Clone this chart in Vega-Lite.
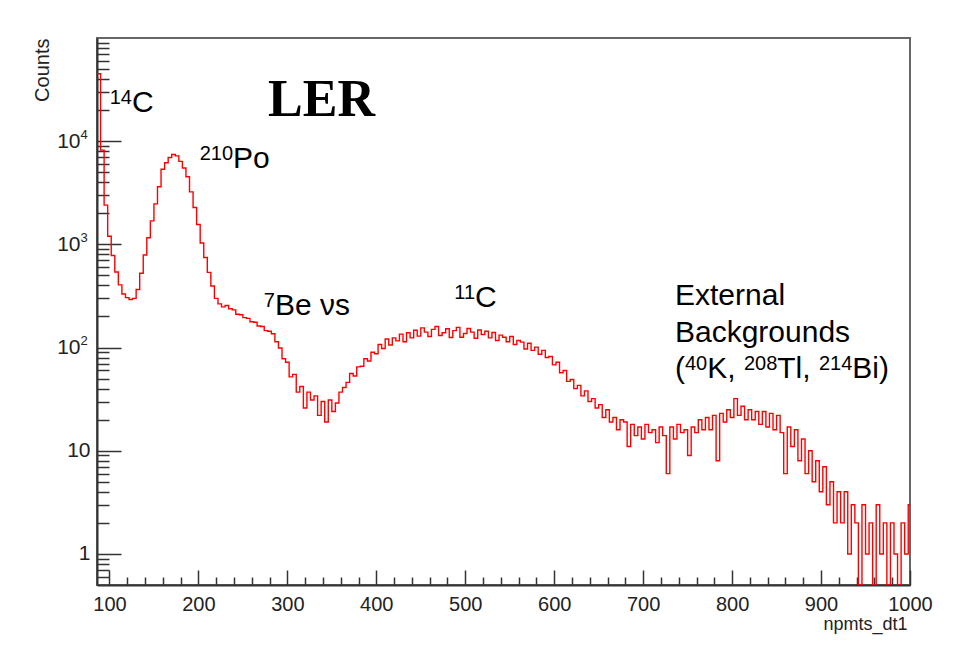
{
  "$schema": "https://vega.github.io/schema/vega-lite/v6.json",
  "autosize": "none",
  "width": 813,
  "height": 547,
  "padding": {"left": 97, "top": 38, "right": 44, "bottom": 66},
  "background": "white",
  "config": {
    "view": {"stroke": "#666666", "strokeWidth": 2},
    "axis": {"grid": false}
  },
  "datasets": {
    "hist": [
      {"npmts_dt1": 86, "counts": 45000}, {"npmts_dt1": 90, "counts": 8200}, {"npmts_dt1": 94, "counts": 2400}, {"npmts_dt1": 98, "counts": 1200},
      {"npmts_dt1": 102, "counts": 780}, {"npmts_dt1": 106, "counts": 540}, {"npmts_dt1": 110, "counts": 405}, {"npmts_dt1": 114, "counts": 330},
      {"npmts_dt1": 118, "counts": 305}, {"npmts_dt1": 122, "counts": 292}, {"npmts_dt1": 126, "counts": 300}, {"npmts_dt1": 130, "counts": 365},
      {"npmts_dt1": 134, "counts": 525}, {"npmts_dt1": 138, "counts": 790}, {"npmts_dt1": 142, "counts": 1160}, {"npmts_dt1": 146, "counts": 1690},
      {"npmts_dt1": 150, "counts": 2470}, {"npmts_dt1": 154, "counts": 3620}, {"npmts_dt1": 158, "counts": 5350}, {"npmts_dt1": 162, "counts": 6180},
      {"npmts_dt1": 166, "counts": 6950}, {"npmts_dt1": 170, "counts": 7420}, {"npmts_dt1": 174, "counts": 7200}, {"npmts_dt1": 178, "counts": 6380},
      {"npmts_dt1": 182, "counts": 5500}, {"npmts_dt1": 186, "counts": 4520}, {"npmts_dt1": 190, "counts": 3230}, {"npmts_dt1": 194, "counts": 2280},
      {"npmts_dt1": 198, "counts": 1560}, {"npmts_dt1": 202, "counts": 1030}, {"npmts_dt1": 206, "counts": 745}, {"npmts_dt1": 210, "counts": 535},
      {"npmts_dt1": 214, "counts": 395}, {"npmts_dt1": 218, "counts": 300}, {"npmts_dt1": 222, "counts": 265}, {"npmts_dt1": 226, "counts": 248},
      {"npmts_dt1": 230, "counts": 256}, {"npmts_dt1": 234, "counts": 238}, {"npmts_dt1": 238, "counts": 232}, {"npmts_dt1": 242, "counts": 210},
      {"npmts_dt1": 246, "counts": 208}, {"npmts_dt1": 250, "counts": 195}, {"npmts_dt1": 254, "counts": 192}, {"npmts_dt1": 258, "counts": 178},
      {"npmts_dt1": 262, "counts": 176}, {"npmts_dt1": 266, "counts": 162}, {"npmts_dt1": 270, "counts": 160}, {"npmts_dt1": 274, "counts": 146},
      {"npmts_dt1": 278, "counts": 144}, {"npmts_dt1": 282, "counts": 136}, {"npmts_dt1": 286, "counts": 114}, {"npmts_dt1": 290, "counts": 99},
      {"npmts_dt1": 294, "counts": 78}, {"npmts_dt1": 298, "counts": 72}, {"npmts_dt1": 302, "counts": 52}, {"npmts_dt1": 306, "counts": 55},
      {"npmts_dt1": 310, "counts": 37}, {"npmts_dt1": 314, "counts": 42}, {"npmts_dt1": 318, "counts": 26}, {"npmts_dt1": 322, "counts": 37},
      {"npmts_dt1": 326, "counts": 31}, {"npmts_dt1": 330, "counts": 34}, {"npmts_dt1": 334, "counts": 22}, {"npmts_dt1": 338, "counts": 30},
      {"npmts_dt1": 342, "counts": 19}, {"npmts_dt1": 346, "counts": 31}, {"npmts_dt1": 350, "counts": 24}, {"npmts_dt1": 354, "counts": 29},
      {"npmts_dt1": 358, "counts": 37}, {"npmts_dt1": 362, "counts": 41}, {"npmts_dt1": 366, "counts": 46}, {"npmts_dt1": 370, "counts": 56},
      {"npmts_dt1": 374, "counts": 53}, {"npmts_dt1": 378, "counts": 65}, {"npmts_dt1": 382, "counts": 66}, {"npmts_dt1": 386, "counts": 78},
      {"npmts_dt1": 390, "counts": 74}, {"npmts_dt1": 394, "counts": 90}, {"npmts_dt1": 398, "counts": 87}, {"npmts_dt1": 402, "counts": 107},
      {"npmts_dt1": 406, "counts": 98}, {"npmts_dt1": 410, "counts": 121}, {"npmts_dt1": 414, "counts": 106}, {"npmts_dt1": 418, "counts": 124},
      {"npmts_dt1": 422, "counts": 116}, {"npmts_dt1": 426, "counts": 135}, {"npmts_dt1": 430, "counts": 114}, {"npmts_dt1": 434, "counts": 139},
      {"npmts_dt1": 438, "counts": 124}, {"npmts_dt1": 442, "counts": 147}, {"npmts_dt1": 446, "counts": 129}, {"npmts_dt1": 450, "counts": 155},
      {"npmts_dt1": 454, "counts": 141}, {"npmts_dt1": 458, "counts": 128}, {"npmts_dt1": 462, "counts": 150}, {"npmts_dt1": 466, "counts": 160},
      {"npmts_dt1": 470, "counts": 131}, {"npmts_dt1": 474, "counts": 139}, {"npmts_dt1": 478, "counts": 152}, {"npmts_dt1": 482, "counts": 125},
      {"npmts_dt1": 486, "counts": 146}, {"npmts_dt1": 490, "counts": 157}, {"npmts_dt1": 494, "counts": 126}, {"npmts_dt1": 498, "counts": 137},
      {"npmts_dt1": 502, "counts": 153}, {"npmts_dt1": 506, "counts": 141}, {"npmts_dt1": 510, "counts": 123}, {"npmts_dt1": 514, "counts": 148},
      {"npmts_dt1": 518, "counts": 134}, {"npmts_dt1": 522, "counts": 144}, {"npmts_dt1": 526, "counts": 124}, {"npmts_dt1": 530, "counts": 140},
      {"npmts_dt1": 534, "counts": 117}, {"npmts_dt1": 538, "counts": 132}, {"npmts_dt1": 542, "counts": 126}, {"npmts_dt1": 546, "counts": 114},
      {"npmts_dt1": 550, "counts": 128}, {"npmts_dt1": 554, "counts": 107}, {"npmts_dt1": 558, "counts": 117}, {"npmts_dt1": 562, "counts": 113},
      {"npmts_dt1": 566, "counts": 97}, {"npmts_dt1": 570, "counts": 110}, {"npmts_dt1": 574, "counts": 94}, {"npmts_dt1": 578, "counts": 101},
      {"npmts_dt1": 582, "counts": 86}, {"npmts_dt1": 586, "counts": 94}, {"npmts_dt1": 590, "counts": 80}, {"npmts_dt1": 594, "counts": 82},
      {"npmts_dt1": 598, "counts": 68}, {"npmts_dt1": 602, "counts": 72}, {"npmts_dt1": 606, "counts": 57}, {"npmts_dt1": 610, "counts": 60},
      {"npmts_dt1": 614, "counts": 47}, {"npmts_dt1": 618, "counts": 49}, {"npmts_dt1": 622, "counts": 40}, {"npmts_dt1": 626, "counts": 43},
      {"npmts_dt1": 630, "counts": 34}, {"npmts_dt1": 634, "counts": 38}, {"npmts_dt1": 638, "counts": 30}, {"npmts_dt1": 642, "counts": 32},
      {"npmts_dt1": 646, "counts": 26}, {"npmts_dt1": 650, "counts": 28}, {"npmts_dt1": 654, "counts": 21}, {"npmts_dt1": 658, "counts": 25},
      {"npmts_dt1": 662, "counts": 19}, {"npmts_dt1": 666, "counts": 21}, {"npmts_dt1": 670, "counts": 16}, {"npmts_dt1": 674, "counts": 20},
      {"npmts_dt1": 678, "counts": 19}, {"npmts_dt1": 682, "counts": 11}, {"npmts_dt1": 686, "counts": 18}, {"npmts_dt1": 690, "counts": 14},
      {"npmts_dt1": 694, "counts": 17}, {"npmts_dt1": 698, "counts": 13}, {"npmts_dt1": 702, "counts": 18}, {"npmts_dt1": 706, "counts": 15},
      {"npmts_dt1": 710, "counts": 16}, {"npmts_dt1": 714, "counts": 12}, {"npmts_dt1": 718, "counts": 17}, {"npmts_dt1": 722, "counts": 14},
      {"npmts_dt1": 726, "counts": 6}, {"npmts_dt1": 730, "counts": 17}, {"npmts_dt1": 734, "counts": 13}, {"npmts_dt1": 738, "counts": 18},
      {"npmts_dt1": 742, "counts": 15}, {"npmts_dt1": 746, "counts": 16}, {"npmts_dt1": 750, "counts": 9}, {"npmts_dt1": 754, "counts": 17},
      {"npmts_dt1": 758, "counts": 15}, {"npmts_dt1": 762, "counts": 20}, {"npmts_dt1": 766, "counts": 16}, {"npmts_dt1": 770, "counts": 21},
      {"npmts_dt1": 774, "counts": 16}, {"npmts_dt1": 778, "counts": 22}, {"npmts_dt1": 782, "counts": 8}, {"npmts_dt1": 786, "counts": 23},
      {"npmts_dt1": 790, "counts": 19}, {"npmts_dt1": 794, "counts": 25}, {"npmts_dt1": 798, "counts": 21}, {"npmts_dt1": 802, "counts": 32},
      {"npmts_dt1": 806, "counts": 22}, {"npmts_dt1": 810, "counts": 27}, {"npmts_dt1": 814, "counts": 20}, {"npmts_dt1": 818, "counts": 25},
      {"npmts_dt1": 822, "counts": 20}, {"npmts_dt1": 826, "counts": 24}, {"npmts_dt1": 830, "counts": 18}, {"npmts_dt1": 834, "counts": 24},
      {"npmts_dt1": 838, "counts": 17}, {"npmts_dt1": 842, "counts": 23}, {"npmts_dt1": 846, "counts": 16}, {"npmts_dt1": 850, "counts": 22},
      {"npmts_dt1": 854, "counts": 15}, {"npmts_dt1": 858, "counts": 6}, {"npmts_dt1": 862, "counts": 17}, {"npmts_dt1": 866, "counts": 11},
      {"npmts_dt1": 870, "counts": 16}, {"npmts_dt1": 874, "counts": 8}, {"npmts_dt1": 878, "counts": 13}, {"npmts_dt1": 882, "counts": 6},
      {"npmts_dt1": 886, "counts": 10}, {"npmts_dt1": 890, "counts": 5}, {"npmts_dt1": 894, "counts": 8}, {"npmts_dt1": 898, "counts": 4},
      {"npmts_dt1": 902, "counts": 7}, {"npmts_dt1": 906, "counts": 3}, {"npmts_dt1": 910, "counts": 5}, {"npmts_dt1": 914, "counts": 2},
      {"npmts_dt1": 918, "counts": 4}, {"npmts_dt1": 922, "counts": 2}, {"npmts_dt1": 926, "counts": 4}, {"npmts_dt1": 930, "counts": 1},
      {"npmts_dt1": 934, "counts": 3}, {"npmts_dt1": 938, "counts": 2}, {"npmts_dt1": 942, "counts": 0}, {"npmts_dt1": 946, "counts": 3},
      {"npmts_dt1": 950, "counts": 1}, {"npmts_dt1": 954, "counts": 2}, {"npmts_dt1": 958, "counts": 0}, {"npmts_dt1": 962, "counts": 3},
      {"npmts_dt1": 966, "counts": 1}, {"npmts_dt1": 970, "counts": 2}, {"npmts_dt1": 974, "counts": 0}, {"npmts_dt1": 978, "counts": 2},
      {"npmts_dt1": 982, "counts": 1}, {"npmts_dt1": 986, "counts": 0}, {"npmts_dt1": 990, "counts": 2}, {"npmts_dt1": 994, "counts": 1},
      {"npmts_dt1": 998, "counts": 3}, {"npmts_dt1": 1000, "counts": 3}
    ],
    "annot": [
      {"x": 125.3, "y": 19200, "sup": "14", "main": "C"},
      {"x": 238.9, "y": 5500, "sup": "210", "main": "Po"},
      {"x": 286.1, "y": 207, "sup": "7", "main": "Be νs"},
      {"x": 511, "y": 247, "sup": "11", "main": "C"},
      {"x": 735.8, "y": 258, "sup": "", "main": "External"},
      {"x": 735.8, "y": 114, "sup": "", "main": "Backgrounds"},
      {"x": 735.8, "y": 50.7, "sup": "", "main": "("},
      {"x": 772, "y": 50.7, "sup": "40", "main": "K,"},
      {"x": 850.8, "y": 50.7, "sup": "208", "main": "Tl,"},
      {"x": 935.2, "y": 50.7, "sup": "214", "main": "Bi)"}
    ],
    "heading": [
      {"x": 278.3, "y": 17400, "text": "LER"}
    ]
  },
  "resolve": {"axis": {"x": "independent", "y": "independent"}},
  "layer": [
    {
      "data": {"name": "hist"},
      "mark": {"type": "line", "interpolate": "step-after", "color": "#ff0000", "strokeWidth": 1.4, "clip": true},
      "encoding": {
        "x": {
          "field": "npmts_dt1", "type": "quantitative",
          "scale": {"domain": [86, 1000], "nice": false, "zero": false},
          "axis": {
            "title": "npmts_dt1", "orient": "bottom", "format": "d",
            "values": [100, 200, 300, 400, 500, 600, 700, 800, 900, 1000],
            "tickSize": -15, "tickColor": "#333333", "tickWidth": 1.5,
            "domainColor": "#333333", "domainWidth": 2,
            "labelFont": "Liberation Sans", "labelFontSize": 20, "labelColor": "#222222",
            "labelPadding": 24, "labelFlush": false, "labelOverlap": false,
            "titleFont": "Liberation Sans", "titleFontSize": 18, "titleFontWeight": "normal", "titleColor": "#222222",
            "titleX": 810, "titleY": 44, "titleAlign": "right", "titleBaseline": "alphabetic", "titleAnchor": "end"
          }
        },
        "y": {
          "field": "counts", "type": "quantitative",
          "scale": {"type": "log", "domain": [0.5, 100000], "nice": false, "clamp": true},
          "axis": {
            "title": "Counts", "orient": "left",
            "values": [1, 10, 100, 1000, 10000],
            "labelExpr": "datum.value == 1 ? '1' : datum.value == 10 ? '10' : ''",
            "tickSize": -24, "tickColor": "#333333", "tickWidth": 1.5,
            "domainColor": "#333333", "domainWidth": 2,
            "labelFont": "Liberation Sans", "labelFontSize": 21, "labelColor": "#222222",
            "labelPadding": 31, "labelFlush": false, "labelOverlap": false,
            "titleFont": "Liberation Sans", "titleFontSize": 20, "titleFontWeight": "normal", "titleColor": "#222222",
            "titleX": -55, "titleY": 0, "titleAngle": -90, "titleAlign": "right", "titleBaseline": "middle", "titleAnchor": "end"
          }
        }
      }
    },
    {
      "data": {"name": "hist"},
      "mark": {"type": "line", "strokeOpacity": 0},
      "encoding": {
        "x": {
          "field": "npmts_dt1", "type": "quantitative",
          "axis": {
            "title": null, "orient": "bottom", "labels": false, "domain": false,
            "values": [120, 140, 160, 180, 220, 240, 260, 280, 320, 340, 360, 380, 420, 440, 460, 480, 520, 540, 560, 580, 620, 640, 660, 680, 720, 740, 760, 780, 820, 840, 860, 880, 920, 940, 960, 980],
            "tickSize": -8, "tickColor": "#333333", "tickWidth": 1.5
          }
        },
        "y": {
          "field": "counts", "type": "quantitative",
          "axis": {
            "title": null, "orient": "left", "labels": false, "domain": false,
            "values": [0.6, 0.7, 0.8, 0.9, 2, 3, 4, 5, 6, 7, 8, 9, 20, 30, 40, 50, 60, 70, 80, 90, 200, 300, 400, 500, 600, 700, 800, 900, 2000, 3000, 4000, 5000, 6000, 7000, 8000, 9000, 20000, 30000, 40000, 50000, 60000, 70000, 80000, 90000],
            "tickSize": -12, "tickColor": "#333333", "tickWidth": 1.5
          }
        }
      }
    },
    {
      "data": {"name": "hist"},
      "mark": {"type": "line", "strokeOpacity": 0},
      "encoding": {
        "x": {"field": "npmts_dt1", "type": "quantitative", "axis": null},
        "y": {
          "field": "counts", "type": "quantitative",
          "axis": {
            "title": null, "orient": "left", "ticks": false, "domain": false,
            "values": [100, 1000, 10000],
            "labelExpr": "'10'",
            "labelFont": "Liberation Sans", "labelFontSize": 21, "labelColor": "#222222",
            "labelPadding": 17, "labelFlush": false, "labelOverlap": false
          }
        }
      }
    },
    {
      "data": {"name": "hist"},
      "mark": {"type": "line", "strokeOpacity": 0},
      "encoding": {
        "x": {"field": "npmts_dt1", "type": "quantitative", "axis": null},
        "y": {
          "field": "counts", "type": "quantitative",
          "axis": {
            "title": null, "orient": "left", "ticks": false, "domain": false,
            "values": [100, 1000, 10000],
            "labelExpr": "datum.value == 100 ? '2' : datum.value == 1000 ? '3' : '4'",
            "labelFont": "Liberation Sans", "labelFontSize": 13, "labelColor": "#222222",
            "labelAlign": "left", "labelPadding": 17, "labelOffset": -7, "labelFlush": false, "labelOverlap": false
          }
        }
      }
    },
    {
      "data": {"name": "annot"},
      "mark": {"type": "text", "font": "Liberation Sans", "fontSize": 30, "align": "left", "baseline": "alphabetic", "color": "#000000"},
      "encoding": {
        "x": {"field": "x", "type": "quantitative", "axis": null},
        "y": {"field": "y", "type": "quantitative", "axis": null},
        "text": {"field": "main"}
      }
    },
    {
      "data": {"name": "annot"},
      "mark": {"type": "text", "font": "Liberation Sans", "fontSize": 20, "align": "right", "baseline": "alphabetic", "dy": -8, "color": "#000000"},
      "encoding": {
        "x": {"field": "x", "type": "quantitative", "axis": null},
        "y": {"field": "y", "type": "quantitative", "axis": null},
        "text": {"field": "sup"}
      }
    },
    {
      "data": {"name": "heading"},
      "mark": {"type": "text", "font": "Liberation Serif", "fontSize": 52, "fontWeight": "bold", "align": "left", "baseline": "alphabetic", "color": "#000000"},
      "encoding": {
        "x": {"field": "x", "type": "quantitative", "axis": null},
        "y": {"field": "y", "type": "quantitative", "axis": null},
        "text": {"field": "text"}
      }
    }
  ]
}
